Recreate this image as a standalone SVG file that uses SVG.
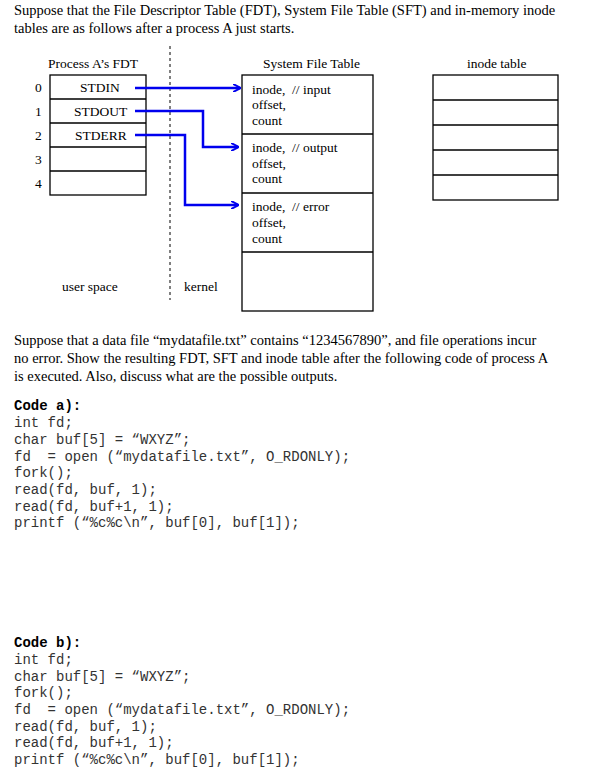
<svg xmlns="http://www.w3.org/2000/svg" width="609" height="776" viewBox="0 0 609 776">
<style>
.p{font-family:"Liberation Serif",serif;font-size:14.5px;fill:#000}
.s{font-family:"Liberation Serif",serif;font-size:13.5px;fill:#000}
.c{font-family:"Liberation Mono",monospace;font-size:14px;fill:#333}
.b{fill:#fff;stroke:#000;stroke-width:1.3}
.ar{fill:none;stroke:#0000ee;stroke-width:2.5}
</style>
<defs><marker id="ah" markerWidth="8" markerHeight="8" refX="7" refY="4" orient="auto" markerUnits="userSpaceOnUse"><path d="M0,0 L8,4 L0,8" fill="none" stroke="#0000ee" stroke-width="2"/></marker></defs>
<text class="p" x="14" y="15">Suppose that the File Descriptor Table (FDT), System File Table (SFT) and in-memory inode</text>
<text class="p" x="14" y="33">tables are as follows after a process A just starts.</text>
<g id="fdt">
<text class="s" x="48" y="68">Process A’s FDT</text>
<rect class="b" x="50" y="75" width="96" height="120"/>
<path d="M50,99H146M50,123H146M50,147H146M50,171H146" stroke="#000" stroke-width="1.3"/>
<text class="s" x="80" y="92">STDIN</text><text class="s" x="74" y="116">STDOUT</text><text class="s" x="75" y="140">STDERR</text>
<text class="s" x="35" y="92">0</text><text class="s" x="35" y="116">1</text><text class="s" x="35" y="140">2</text><text class="s" x="35" y="164">3</text><text class="s" x="35" y="188">4</text>
</g>
<line x1="170" y1="46" x2="170" y2="300" stroke="#000" stroke-dasharray="3,3"/>
<text class="s" x="62" y="291">user space</text><text class="s" x="184" y="291">kernel</text>
<g id="sft">
<text class="s" x="263" y="68">System File Table</text>
<rect class="b" x="242" y="75" width="131" height="236"/>
<path d="M242,134H373M242,193H373M242,252H373" stroke="#000" stroke-width="1.3"/>
<text class="s" x="252" y="94">inode,&#160; // input</text><text class="s" x="252" y="109">offset,</text><text class="s" x="252" y="125">count</text>
<text class="s" x="252" y="152">inode,&#160; // output</text><text class="s" x="252" y="168">offset,</text><text class="s" x="252" y="183">count</text>
<text class="s" x="252" y="211">inode,&#160; // error</text><text class="s" x="252" y="227">offset,</text><text class="s" x="252" y="243">count</text>
</g>
<g id="inode">
<text class="s" x="467" y="68">inode table</text>
<rect class="b" x="433" y="75" width="125" height="125"/>
<path d="M433,100H558M433,125H558M433,150H558M433,175H558" stroke="#000" stroke-width="1.3"/>
</g>
<g id="connectors">
<path class="ar" d="M135,88H240" marker-end="url(#ah)"/>
<path class="ar" d="M135,111H203V147H238" marker-end="url(#ah)"/>
<path class="ar" d="M135,135H185V205H238" marker-end="url(#ah)"/>
</g>
<text class="p" x="14" y="345">Suppose that a data file “mydatafile.txt” contains “1234567890”, and file operations incur</text>
<text class="p" x="14" y="363">no error. Show the resulting FDT, SFT and inode table after the following code of process A</text>
<text class="p" x="14" y="381">is executed. Also, discuss what are the possible outputs.</text>
<g class="c">
<text x="14" y="410" font-weight="bold" fill="#000">Code a):</text>
<text x="14" y="427">int fd;</text>
<text x="14" y="444">char buf[5] = “WXYZ”;</text>
<text x="14" y="461">fd&#160; = open (“mydatafile.txt”, O_RDONLY);</text>
<text x="14" y="477">fork();</text>
<text x="14" y="494">read(fd, buf, 1);</text>
<text x="14" y="511">read(fd, buf+1, 1);</text>
<text x="14" y="527">printf (“%c%c\n”, buf[0], buf[1]);</text>
<text x="14" y="647" font-weight="bold" fill="#000">Code b):</text>
<text x="14" y="664">int fd;</text>
<text x="14" y="681">char buf[5] = “WXYZ”;</text>
<text x="14" y="697">fork();</text>
<text x="14" y="714">fd&#160; = open (“mydatafile.txt”, O_RDONLY);</text>
<text x="14" y="731">read(fd, buf, 1);</text>
<text x="14" y="747">read(fd, buf+1, 1);</text>
<text x="14" y="764">printf (“%c%c\n”, buf[0], buf[1]);</text>
</g>
</svg>
